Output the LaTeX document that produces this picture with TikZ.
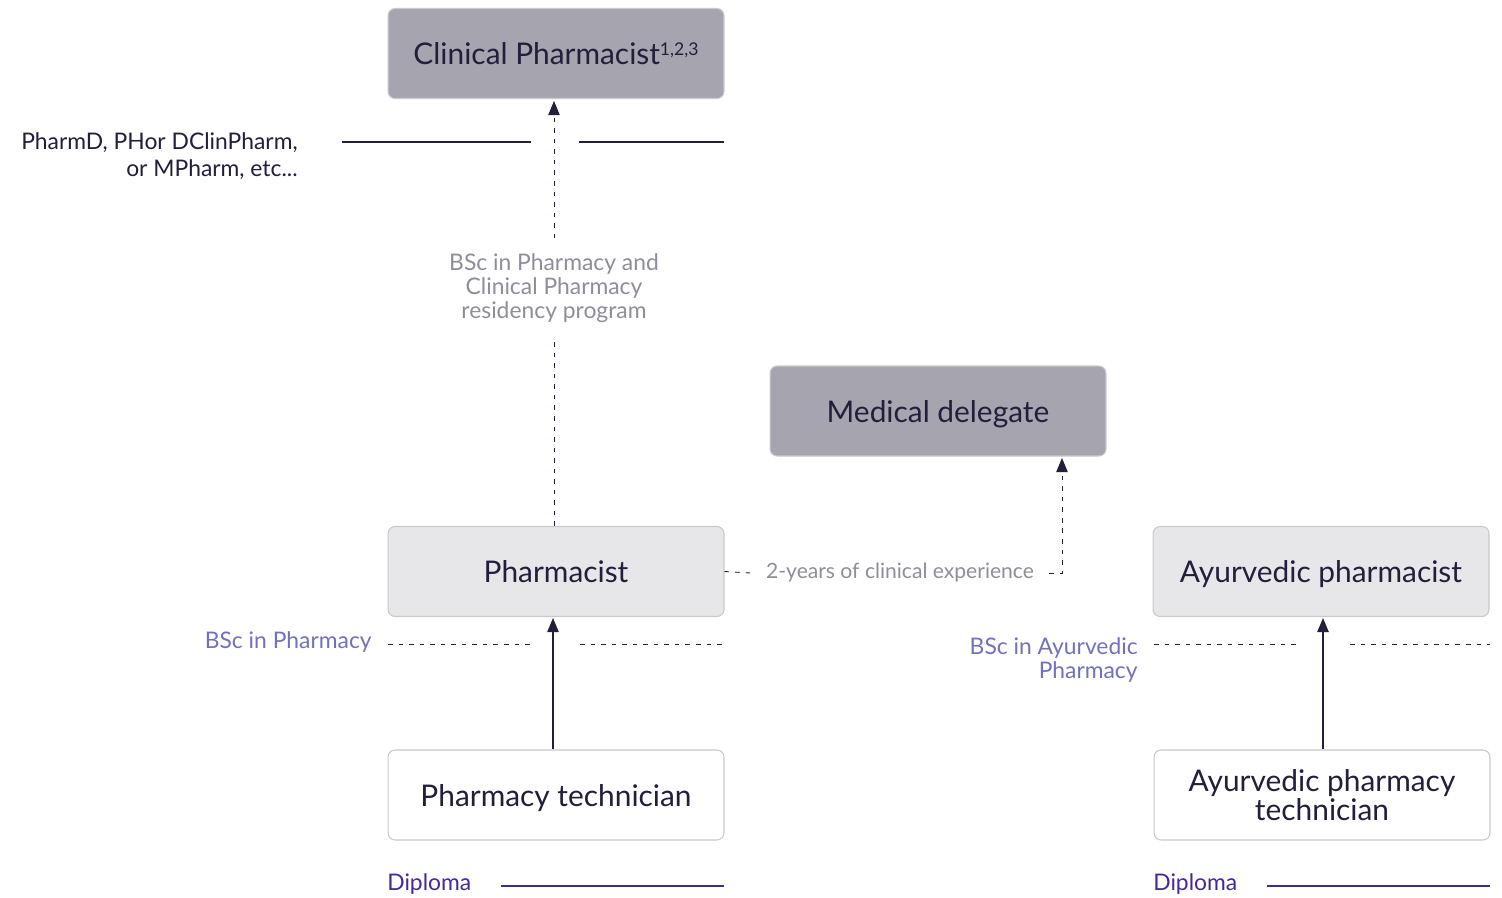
\documentclass[tikz,border=0pt]{standalone}
\usepackage{fontspec}
\setmainfont{Lato}
\usetikzlibrary{arrows.meta}
\definecolor{ink}{HTML}{221F3B}
\definecolor{darkfill}{HTML}{A6A4AF}
\definecolor{lightfill}{HTML}{E7E7EA}
\definecolor{boxline}{HTML}{C9C9CE}
\definecolor{note}{HTML}{8F8D9A}
\definecolor{degree}{HTML}{7370BD}
\definecolor{diploma}{HTML}{46279B}
\tikzset{
  role/.style={draw=boxline, line width=0.6pt, rounded corners=4pt,
    minimum width=6.72cm, minimum height=1.8cm, align=center, text=ink,
    text depth=0pt, font=\fontsize{17}{17}\selectfont},
  senior/.style={role, fill=darkfill},
  mid/.style={role, fill=lightfill},
  entry/.style={role, fill=white},
  remark/.style={text=note, align=center, font=\fontsize{13}{13.6}\selectfont},
  qual/.style={align=right, anchor=east, inner sep=0pt, font=\fontsize{13}{13.6}\selectfont},
  up/.style={-{Triangle[length=8pt,width=6.5pt]}, ink},
  dots/.style={dash pattern=on 2.6pt off 3.4pt, line width=0.5pt}
}
\newcommand{\refmark}[1]{\raisebox{5pt}{\fontsize{10}{10}\selectfont #1}}
\begin{document}
\begin{tikzpicture}[x=0.02cm, y=-0.02cm]
  \useasboundingbox (0,0) rectangle (1502,897);
  \draw
    (556,53.5) node[senior] (clin) {Clinical Pharmacist\refmark{1,2,3}}
    (938,411) node[senior] (med) {Medical delegate}
    (556,571.5) node[mid] (pharm) {Pharmacist}
    (1321,571.5) node[mid] (ayur) {Ayurvedic pharmacist}
    (556,795) node[entry] (tech) {Pharmacy technician}
    (1322,795) node[entry] (ayurtech) {Ayurvedic pharmacy\\technician};
  \draw
    (554,288) node[remark, inner ysep=0.3cm] (resid) {BSc in Pharmacy and\\Clinical Pharmacy\\residency program}
    (900,573) node[remark, inner xsep=0.3cm, font=\fontsize{12}{13}\selectfont] (exp) {2-years of clinical experience}
    (298,156) node[qual, text=ink, font=\fontsize{13}{15.3}\selectfont] (phd) {PharmD, PHor DClinPharm,\\or MPharm, etc...}
    (372,642) node[qual, text=degree] (bsc) {BSc in Pharmacy}
    (1138,660) node[qual, text=degree] (bscayur) {BSc in Ayurvedic\\Pharmacy}
    (387,884) node[anchor=west, inner sep=0pt, text=diploma, font=\fontsize{13}{13.6}\selectfont] (dip) {Diploma}
    (1153,884) node[anchor=west, inner sep=0pt, text=diploma, font=\fontsize{13}{13.6}\selectfont] (dipayur) {Diploma};
  \coordinate (medin) at (1062,458);
  % level lines
  \draw[ink, line width=0.8pt] (342,142) -- (531,142) (579,142) -- (724,142);
  \draw[ink, dots] (388,644) -- (531,644) (580,644) -- (724,644);
  \draw[ink, dots] (1154,644) -- (1298,644) (1350,644) -- (1490,644);
  \draw[diploma, line width=0.7pt] (501,886) -- (724,886);
  \draw[diploma, line width=0.7pt] (1267,886) -- (1490,886);
  % progression
  \begin{scope}[line width=0.7pt]
    \draw[up] (tech.north -| 553,0) -- (553,618);
    \draw[up] (ayurtech.north -| 1323,0) -- (1323,618);
    \draw[ink, dots] (pharm.north -| resid.south) -- (resid.south);
    \draw[up, dots] (resid.north) -- (554,101);
    \draw[ink, dots] (pharm.east) -- (exp.west);
    \draw[up, dots] (exp.east) -| (medin);
  \end{scope}
\end{tikzpicture}
\end{document}
